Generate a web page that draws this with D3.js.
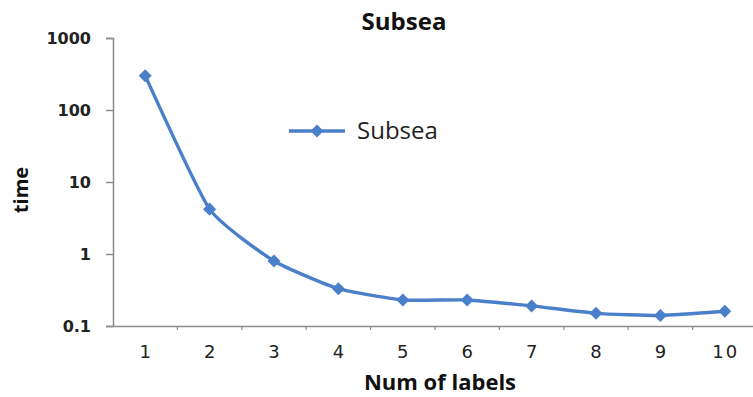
<!DOCTYPE html>
<html>
<head>
<meta charset="utf-8">
<script src="https://cdn.jsdelivr.net/npm/d3@7"></script>
<style>
  html, body { margin: 0; padding: 0; background: #fff; }
  svg { display: block; }
</style>
</head>
<body>
<svg id="chart" width="753" height="397"></svg>
<script>
// Run time per number of labels (log scale)
const categories = ["1", "2", "3", "4", "5", "6", "7", "8", "9", "10"];
const subsea = [300, 4.2, 0.8, 0.33, 0.23, 0.23, 0.19, 0.15, 0.14, 0.16];
const yTicks = [0.1, 1, 10, 100, 1000];
const yTickLabels = ["0.1", "1", "10", "100", "1000"];
const seriesName = "Subsea";

const plot = { left: 113, right: 757, top: 38, bottom: 326 };
const color = "#4a7fc9";
const axisColor = "#8c8c8c";
const tickFont = "DejaVu Sans, Verdana, sans-serif";
const titleFont = "Open Sans, DejaVu Sans, sans-serif";

const svg = d3.select("#chart");

const x = d3.scaleBand().domain(categories).range([plot.left, plot.right]);
const y = d3.scaleLog().domain([0.1, 1000]).range([plot.bottom, plot.top]);

// Y axis
const yAxis = svg.append("g")
  .attr("transform", `translate(${plot.left},0)`)
  .call(d3.axisLeft(y).tickValues(yTicks)
    .tickFormat((d, i) => yTickLabels[i]).tickSize(7).tickPadding(15));
yAxis.select(".domain").attr("stroke", axisColor).attr("stroke-width", 1.5);
yAxis.selectAll(".tick line").attr("stroke", axisColor).attr("stroke-width", 1.5);
yAxis.selectAll(".tick text")
  .attr("fill", "#222").style("font-family", tickFont)
  .style("font-size", "16px").style("font-weight", "bold");

// X axis
const xAxis = svg.append("g")
  .attr("transform", `translate(0,${plot.bottom})`)
  .call(d3.axisBottom(x).tickSize(0).tickPadding(19));
xAxis.select(".domain").attr("stroke", axisColor).attr("stroke-width", 1.5);
xAxis.selectAll(".tick text")
  .attr("fill", "#222").style("font-family", tickFont)
  .style("font-size", "18px").style("letter-spacing", "2px")
  .attr("dx", "1px");
// tick marks on category boundaries
xAxis.selectAll(".bound")
  .data(categories.slice(1))
  .join("line")
  .attr("x1", d => x(d)).attr("x2", d => x(d))
  .attr("y1", 0).attr("y2", 4)
  .attr("stroke", axisColor).attr("stroke-width", 1.2);

// Series line
const line = d3.line()
  .x((d, i) => x(categories[i]) + x.bandwidth() / 2)
  .y(d => y(d))
  .curve(d3.curveCardinal.tension(0.5));

svg.append("path")
  .datum(subsea)
  .attr("d", line)
  .attr("fill", "none")
  .attr("stroke", color)
  .attr("stroke-width", 3.4)
  .attr("stroke-linejoin", "round");

// diamond markers: a square turned 45 degrees
const marker = d3.symbol().type(d3.symbolSquare).size(85);
svg.selectAll(".pt")
  .data(subsea)
  .join("path")
  .attr("class", "pt")
  .attr("transform", (d, i) => `translate(${x(categories[i]) + x.bandwidth() / 2},${y(d)}) rotate(45)`)
  .attr("d", marker)
  .attr("fill", color);

// Title
svg.append("text")
  .attr("x", 404).attr("y", 30)
  .attr("text-anchor", "middle")
  .style("font-family", titleFont)
  .style("font-size", "24px").style("font-weight", "bold")
  .attr("fill", "#111")
  .text(seriesName);

// Axis titles
svg.append("text")
  .attr("transform", "translate(28,190) rotate(-90)")
  .attr("text-anchor", "middle")
  .style("font-family", titleFont)
  .style("font-size", "20px").style("font-weight", "bold")
  .attr("fill", "#111")
  .text("time");

svg.append("text")
  .attr("x", 440).attr("y", 390)
  .attr("text-anchor", "middle")
  .style("font-family", titleFont)
  .style("font-size", "22px").style("font-weight", "bold")
  .attr("fill", "#111")
  .text("Num of labels");

// Legend
const lg = svg.append("g").attr("transform", "translate(289,131)");
lg.append("line").attr("x1", 0).attr("x2", 56).attr("y1", 0).attr("y2", 0)
  .attr("stroke", color).attr("stroke-width", 3.4);
lg.append("path").attr("transform", "translate(28,0) rotate(45)").attr("d", marker).attr("fill", color);
lg.append("text").attr("x", 68).attr("y", 8)
  .style("font-family", "Open Sans, sans-serif")
  .style("font-size", "24px")
  .attr("fill", "#222")
  .text(seriesName);
</script>
</body>
</html>
